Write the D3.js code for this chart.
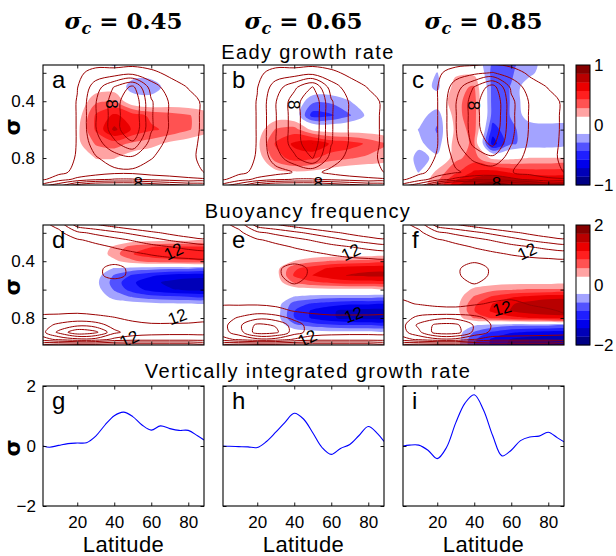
<!DOCTYPE html>
<html lang="en">
<head>
<meta charset="UTF-8">
<title>Eady growth rate and buoyancy frequency</title>
<script src="https://cdnjs.cloudflare.com/ajax/libs/d3/7.8.5/d3.min.js"></script>
<style>
  body { margin: 0; background: #fff; }
</style>
</head>
<body>
<div id="wrapper"></div>
<script>
// ---------- data ----------
const sigmaCases = ['0.45', '0.65', '0.85']
const rowTitles = ['Eady growth rate', 'Buoyancy frequency', 'Vertically integrated growth rate']
const panelLetters = [['a', 'b', 'c'], ['d', 'e', 'f'], ['g', 'h', 'i']]

// grid columns (latitude) and rows (sigma, top to bottom)
const gridLat = [0, 10, 20, 30, 40, 50, 60, 70, 80, 90]
const sigmaTop = [0.1, 0.2, 0.3, 0.4, 0.5, 0.6, 0.7, 0.8, 0.9, 0.95, 1.0]
const sigmaMid = [0.1, 0.15, 0.2, 0.25, 0.3, 0.35, 0.4, 0.45, 0.5, 0.55, 0.6, 0.65, 0.7, 0.75, 0.8, 0.85, 0.9, 0.95, 1.0]

// Eady growth rate change (shaded), rows = sigmaTop
const eadyDiffA = [
  [0, 0, 0, 0, -0.3, 0, 0, 0, 0, 0],
  [0, 0, 0, 0, 0, -0.05, -0.05, 0, 0, 0],
  [0, 0, 0, 0.05, 0.05, -0.25, -0.25, -0.05, 0, 0],
  [0, 0, 0, 0.25, 0.3, 0, -0.05, 0, 0, 0],
  [0, 0, 0.05, 0.45, 0.6, 0.5, 0.4, 0.35, 0.3, 0.2],
  [0, 0, 0.1, 0.45, 0.75, 0.55, 0.45, 0.4, 0.3, 0.2],
  [0, 0, 0.1, 0.3, 0.35, 0.25, 0.2, 0.1, 0.05, 0],
  [0, 0, 0, 0.15, 0.15, 0.05, 0, 0, 0, 0],
  [0, 0, 0, 0, 0, 0, 0, 0, 0, 0],
  [0, 0, 0, 0, 0, 0, 0, 0, 0, 0],
  [0, 0, 0, 0, 0, 0, 0, 0, 0, 0]
]
const eadyDiffB = [
  [0, 0, 0, 0, 0, 0, 0, 0, 0, 0],
  [0, 0, 0, 0, 0, 0, 0, 0, 0, 0],
  [0, 0, 0, 0, 0, 0, 0, 0, 0, 0],
  [0, 0, 0, 0, 0, -0.25, -0.25, -0.15, 0, 0],
  [0, 0, 0, 0.05, 0, -0.5, -0.45, -0.3, -0.1, 0],
  [0, 0, 0.05, 0.3, 0.35, 0.1, 0.05, 0.05, 0.05, 0],
  [0, 0, 0.1, 0.45, 0.6, 0.72, 0.55, 0.5, 0.4, 0.3],
  [0, 0, 0.05, 0.35, 0.5, 0.45, 0.35, 0.3, 0.25, 0.2],
  [0, 0, 0, 0.1, 0.12, 0.1, 0.05, 0, 0, 0],
  [0, 0, 0, 0, 0, 0, 0, 0, 0, 0],
  [0, 0, 0, 0, 0, 0, 0, 0, 0, 0]
]
const eadyDiffC = [
  [0, 0, 0, 0, 0, -0.3, -0.3, -0.25, 0, 0],
  [0, 0, -0.15, 0.1, 0.1, -0.35, -0.3, -0.2, 0, 0],
  [0, 0, -0.2, 0.25, 0.3, -0.35, -0.28, 0, 0, 0],
  [0, 0, 0, 0.25, 0.35, -0.35, -0.28, 0, 0, 0],
  [0, -0.05, -0.25, 0.25, 0.35, -0.35, -0.28, -0.05, 0, 0],
  [0, -0.15, -0.3, 0.2, 0.35, -0.5, -0.3, -0.25, -0.25, -0.25],
  [0, -0.1, -0.25, 0.25, 0.3, -0.65, -0.3, -0.25, -0.25, -0.2],
  [0, -0.2, -0.1, 0.25, 0.35, 0.1, 0.1, 0.15, 0.15, 0.15],
  [0, -0.15, 0.2, 0.4, 0.6, 0.65, 0.55, 0.5, 0.5, 0.5],
  [0, 0, 0.25, 0.55, 0.75, 0.8, 0.75, 0.7, 0.65, 0.65],
  [0, 0, 0.3, 0.7, 0.9, 0.95, 0.9, 0.85, 0.8, 0.8]
]

// Eady growth rate (contour lines), rows = sigmaTop
const eadyA = [
  [0, 0, 0.3, 0.5, 0.5, 0.5, 0.4, 0.2, 0, 0],
  [0, 0.3, 1.5, 2.8, 2.8, 3.2, 2.5, 1.5, 0.8, 0.5],
  [0, 0.5, 1.9, 5, 8.1, 10.5, 5, 3, 1.9, 1],
  [0, 0.5, 2.1, 5.9, 9, 12, 6.2, 3.8, 2.6, 1.6],
  [0, 0.5, 2.1, 5.9, 9, 12, 6.2, 3.8, 2.6, 1.6],
  [0, 0.5, 2.1, 5.9, 9, 12, 6.2, 3.8, 2.6, 1.6],
  [0, 0.5, 2.1, 5, 7.5, 9.5, 5, 3.4, 2.4, 1.6],
  [0, 0.8, 2.2, 3.8, 5, 5.5, 4.1, 3, 2.3, 1.6],
  [0.5, 1.5, 2.5, 3, 3.5, 3.5, 3, 2.8, 2.5, 1.9],
  [1.5, 3, 4.5, 5.5, 6.1, 6.1, 5.5, 5, 4.5, 4.2],
  [5, 8.1, 12, 14, 14, 14, 13, 12, 11, 10.5]
]
const eadyB = [
  [0, 0, 0.3, 0.5, 0.5, 0.5, 0.4, 0.2, 0, 0],
  [0, 0.3, 1.5, 2.8, 2.8, 3.2, 2.5, 1.5, 0.8, 0.5],
  [0, 0.5, 1.9, 5, 7.5, 10.1, 5, 3, 1.9, 1],
  [0, 0.5, 2.1, 5.9, 9, 12, 6.2, 3.8, 2.6, 1.6],
  [0, 0.5, 2.1, 5.9, 9, 12, 6.2, 3.8, 2.6, 1.6],
  [0, 0.5, 2.1, 5.9, 9, 12, 6.2, 3.8, 2.6, 1.6],
  [0, 0.5, 2.1, 5.9, 9, 11.5, 6.1, 3.8, 2.6, 1.6],
  [0, 0.8, 2.2, 5, 7.5, 10.1, 5, 3.4, 2.4, 1.6],
  [0.5, 1.5, 2.5, 3.2, 4.1, 4.5, 3.5, 2.8, 2.5, 1.9],
  [1.5, 3, 4.5, 5.5, 6.1, 6.1, 5.5, 5, 4.5, 4.2],
  [5, 8.1, 12, 14, 14, 14, 13, 12, 11, 10.5]
]
const eadyC = [
  [0, 0, 0.3, 0.5, 0.6, 0.6, 0.5, 0.2, 0, 0],
  [0, 0.3, 1.6, 3, 3.5, 4.1, 3, 1.6, 0.8, 0.5],
  [0, 0.5, 1.9, 5, 8.1, 11, 5.5, 3, 1.9, 1],
  [0, 0.5, 1.9, 5.9, 9, 12.5, 6.5, 3.8, 2.6, 1.6],
  [0, 0.5, 1.9, 5.9, 9, 12.5, 6.5, 3.8, 2.6, 1.6],
  [0, 0.5, 1.9, 5.9, 9, 12, 6.5, 3.8, 2.6, 1.6],
  [0, 0.5, 1.9, 5.5, 8.5, 10.5, 6.1, 3.6, 2.5, 1.6],
  [0, 0.8, 2.2, 4.5, 6.5, 7.5, 5, 3.3, 2.4, 1.6],
  [0.5, 1.5, 2.8, 3.8, 4.5, 4.8, 4.1, 3.2, 2.5, 1.9],
  [1.5, 3, 5, 6.5, 7.5, 7.5, 6.5, 5.5, 4.5, 4.2],
  [5, 8.1, 13, 16.5, 17, 17, 15, 13, 11, 10.5]
]

// buoyancy frequency change (shaded), rows = sigmaMid
const nDiffD = [
  [0, 0, 0, 0, 0, 0, 0, 0, 0, 0],
  [0, 0, 0, 0, 0, 0, 0, 0, 0, 0],
  [0, 0, 0, 0, 0, 0, 0, 0, 0, 0],
  [0, 0, 0, 0, 0, 0.1, 0.15, 0.2, 0.2, 0.2],
  [0, 0, 0, 0, 0.35, 0.7, 0.85, 0.9, 0.9, 0.9],
  [0, 0, 0, 0, 0.45, 0.85, 1.0, 1.05, 1.1, 1.1],
  [0, 0, 0, 0, 0.2, 0.5, 0.7, 0.75, 0.8, 0.8],
  [0, 0, 0, -0.1, -0.3, -0.4, -0.45, -0.5, -0.5, -0.5],
  [0, 0, 0, -0.15, -0.6, -0.9, -1.1, -1.25, -1.3, -1.3],
  [0, 0, 0, -0.2, -0.7, -1.1, -1.35, -1.5, -1.6, -1.6],
  [0, 0, 0, -0.15, -0.6, -1.0, -1.25, -1.4, -1.5, -1.5],
  [0, 0, 0, -0.05, -0.4, -0.6, -0.75, -0.8, -0.85, -0.85],
  [0, 0, 0, 0, -0.1, -0.15, -0.2, -0.25, -0.25, -0.25],
  [0, 0, 0, 0, 0, 0, 0, 0, 0, 0],
  [0, 0, 0, 0, 0, 0, 0, 0, 0, 0],
  [0, 0, 0, 0, 0, 0, 0, 0, 0, 0],
  [0, 0, 0, 0, 0, 0, 0, 0, 0, 0],
  [0, 0, 0, 0, 0, 0, 0, 0, 0, 0],
  [0, 0, 0, 0, 0, 0, 0, 0, 0, 0]
]
const nDiffE = [
  [0, 0, 0, 0, 0, 0, 0, 0, 0, 0],
  [0, 0, 0, 0, 0, 0, 0, 0, 0, 0],
  [0, 0, 0, 0, 0, 0, 0, 0, 0, 0],
  [0, 0, 0, 0, 0, 0, 0, 0, 0, 0],
  [0, 0, 0, 0, 0, 0, 0, 0, 0, 0],
  [0, 0, 0, 0, 0, 0.05, 0.1, 0.1, 0.1, 0.1],
  [0, 0, 0, 0.05, 0.3, 0.5, 0.6, 0.65, 0.7, 0.7],
  [0, 0, 0, 0.15, 0.8, 1.0, 1.2, 1.3, 1.35, 1.35],
  [0, 0, 0, 0.15, 0.9, 1.15, 1.35, 1.45, 1.5, 1.5],
  [0, 0, 0, 0.1, 0.6, 0.8, 0.9, 1.0, 1.0, 1.0],
  [0, 0, 0, 0, 0.1, 0.15, 0.2, 0.2, 0.2, 0.2],
  [0, 0, 0, -0.05, -0.3, -0.4, -0.45, -0.45, -0.45, -0.45],
  [0, 0, 0, -0.1, -0.7, -0.9, -1.0, -1.1, -1.1, -1.1],
  [0, 0, 0, -0.1, -0.85, -1.2, -1.4, -1.5, -1.55, -1.55],
  [0, 0, 0, -0.1, -0.85, -1.2, -1.4, -1.5, -1.55, -1.55],
  [0, 0, 0, -0.05, -0.5, -0.7, -0.8, -0.85, -0.85, -0.85],
  [0, 0, 0, 0, -0.1, -0.15, -0.2, -0.2, -0.2, -0.2],
  [0, 0, 0, 0, 0, 0, 0, 0, 0, 0],
  [0, 0, 0, 0, 0, 0, 0, 0, 0, 0]
]
const nDiffF = [
  [0, 0, 0, 0, 0, 0, 0, 0, 0, 0],
  [0, 0, 0, 0, 0, 0, 0, 0, 0, 0],
  [0, 0, 0, 0, 0, 0, 0, 0, 0, 0],
  [0, 0, 0, 0, 0, 0, 0, 0, 0, 0],
  [0, 0, 0, 0, 0, 0, 0, 0, 0, 0],
  [0, 0, 0, 0, 0, 0, 0, 0, 0, 0],
  [0, 0, 0, 0, 0, 0, 0, 0, 0, 0],
  [0, 0, 0, 0, 0, 0, 0, 0, 0, 0],
  [0, 0, 0, 0, 0, 0, 0, 0, 0, 0],
  [0, 0, 0, 0, 0.1, 0.15, 0.2, 0.2, 0.2, 0.2],
  [0, 0, 0, 0.05, 0.35, 0.5, 0.55, 0.6, 0.6, 0.6],
  [0, 0, 0, 0.1, 0.6, 0.9, 1.1, 1.2, 1.3, 1.3],
  [0, 0, 0, 0.15, 0.8, 1.15, 1.4, 1.55, 1.65, 1.65],
  [0, 0, 0, 0.15, 0.85, 1.2, 1.45, 1.6, 1.7, 1.7],
  [0, 0, 0, 0.1, 0.6, 0.9, 1.05, 1.15, 1.2, 1.2],
  [0, 0, 0, -0.05, -0.25, -0.4, -0.5, -0.5, -0.5, -0.5],
  [0, 0, 0, -0.1, -0.6, -0.9, -1.1, -1.2, -1.25, -1.25],
  [0, 0, 0, -0.1, -0.8, -1.2, -1.45, -1.55, -1.6, -1.6],
  [0, 0, 0, -0.1, -0.8, -1.2, -1.5, -1.6, -1.65, -1.65]
]

// buoyancy frequency (contour lines), rows = sigmaMid
const buoyD = [
  [11.5, 14.2, 19, 20, 21, 22, 23, 24, 25, 26],
  [11.2, 12.5, 16.5, 17.5, 18.5, 19.5, 20.5, 21.5, 22.5, 23],
  [11, 11.5, 13.5, 14.5, 15.5, 16.5, 17.5, 18.5, 19.5, 20],
  [11, 11.2, 11.8, 12.5, 13.3, 14.2, 15.2, 16.2, 17, 17.5],
  [11, 11, 11.2, 11.5, 12.1, 12.6, 13.3, 13.9, 14.6, 15],
  [11, 11, 11, 11, 11.3, 11.7, 12.1, 12.5, 12.8, 13],
  [11, 11, 11, 10.8, 10.6, 11, 11.3, 11.4, 11.5, 11.5],
  [11, 11, 11, 10.5, 9.3, 10.5, 11, 11, 11, 11],
  [11, 11, 11, 10.5, 9.3, 10.5, 11, 11, 11, 11],
  [11, 11, 11, 11, 10.8, 11, 11, 11, 11, 11],
  [11, 11, 11, 11, 11, 11, 11, 11, 11, 11],
  [11, 11, 11, 11, 11, 11, 11, 11, 11, 11],
  [11.2, 11.2, 11.2, 11.1, 11, 11, 11, 11, 11, 11],
  [11.6, 11.6, 11.6, 11.4, 11.2, 11.1, 11, 11, 11, 11],
  [12.3, 12.5, 12.8, 12.5, 12.1, 11.6, 11.4, 11.4, 11.5, 11.6],
  [13, 14.5, 15.5, 15, 13.2, 12.5, 12.2, 12.2, 12.2, 12.3],
  [13, 16.5, 19.5, 18.5, 14.5, 13, 12.6, 12.5, 12.5, 12.5],
  [11, 12.5, 13.5, 13.3, 11.5, 11, 11, 11, 11, 11],
  [3, 3, 3, 3, 3, 3, 3, 3, 3, 3]
]
const buoyE = [
  [11.5, 14.2, 19, 20, 21, 22, 23, 24, 25, 26],
  [11.2, 12.5, 16.5, 17.5, 18.5, 19.5, 20.5, 21.5, 22.5, 23],
  [11, 11.5, 13.5, 14.5, 15.5, 16.5, 17.5, 18.5, 19.5, 20],
  [11, 11.2, 11.8, 12.5, 13.3, 14.2, 15.2, 16.2, 17, 17.5],
  [11, 11, 11.2, 11.5, 12.1, 12.6, 13.3, 13.9, 14.6, 15],
  [11, 11, 11, 11, 11.3, 11.7, 12.1, 12.5, 12.8, 13],
  [11, 11, 11, 10.8, 10.5, 11, 11.3, 11.4, 11.5, 11.5],
  [11, 11, 11, 10.4, 9.2, 10.4, 11, 11, 11, 11],
  [11, 11, 11, 10.4, 9.2, 10.4, 11, 11, 11, 11],
  [11, 11, 11, 10.6, 9.8, 10.6, 11, 11, 11, 11],
  [11, 11, 11, 11, 10.8, 11, 11, 11, 11, 11],
  [11.3, 11.3, 11.3, 11.2, 11.1, 11, 11, 11, 11, 11],
  [11.8, 11.8, 11.8, 11.6, 11.4, 11.2, 11.1, 11, 11, 11],
  [12.5, 12.8, 13, 12.6, 11.9, 11.7, 11.6, 11.6, 11.6, 11.6],
  [13, 14.2, 15.5, 15, 13.5, 12.5, 12.3, 12.3, 12.3, 12.3],
  [13, 15.5, 18.5, 17.8, 15, 13, 12.6, 12.5, 12.5, 12.5],
  [13, 15, 19, 18.5, 15, 13, 12.6, 12.5, 12.5, 12.5],
  [11, 12.5, 13.5, 13.3, 11.8, 11, 11, 11, 11, 11],
  [3, 3, 3, 3, 3, 3, 3, 3, 3, 3]
]
const buoyF = [
  [11.5, 14.2, 19, 20, 21, 22, 23, 24, 25, 26],
  [11.2, 12.5, 16.5, 17.5, 18.5, 19.5, 20.5, 21.5, 22.5, 23],
  [11, 11.5, 13.5, 14.5, 15.5, 16.5, 17.5, 18.5, 19.5, 20],
  [11, 11.2, 11.8, 12.5, 13.3, 14.2, 15.2, 16.2, 17, 17.5],
  [11, 11, 11.2, 11.5, 12.1, 12.6, 13.3, 13.9, 14.6, 15],
  [11, 11, 11, 11, 11.3, 11.7, 12.1, 12.5, 12.8, 13],
  [11, 11, 11, 10.6, 10.2, 10.8, 11.3, 11.4, 11.5, 11.5],
  [11, 11, 11, 10.3, 9.2, 10.3, 11, 11, 11, 11],
  [11, 11, 11, 10.3, 9.2, 10.3, 11, 11, 11, 11],
  [11, 11, 11, 10.6, 9.8, 10.6, 11, 11, 11, 11],
  [11.2, 11.2, 11.1, 11, 10.8, 11, 11.2, 11.2, 11.2, 11.2],
  [11.8, 11.6, 11.4, 11.2, 11.2, 11.5, 11.7, 11.6, 11.5, 11.4],
  [12.3, 11.9, 11.7, 11.6, 11.8, 12.2, 12.4, 11.9, 11.8, 11.7],
  [13, 13, 12.5, 12.5, 13, 13, 13, 12.5, 12.1, 11.9],
  [13, 14.5, 15.5, 15.5, 14.5, 13.5, 13.3, 13, 12.5, 12.1],
  [13, 16.5, 18.5, 18.5, 15.8, 13.8, 13.4, 13.2, 13, 12.6],
  [13, 15.5, 19, 19, 15.5, 13.5, 13.2, 13, 12.8, 12.5],
  [11, 12.5, 13.5, 13.5, 12.1, 11, 11, 11, 11, 11],
  [3, 3, 3, 3, 3, 3, 3, 3, 3, 3]
]

// contour levels and colour steps
const eadyLevels = [2, 4, 6, 8, 10]
const buoyLevels = [4, 6, 8, 10, 12, 14, 16, 18]
const redShades = ['#ffa3a3', '#ff5252', '#ff1f1f', '#eb0000', '#b80000', '#850000']
const blueShades = ['#a3a3ff', '#5252ff', '#1f1fff', '#0000eb', '#0000b8', '#000085']

// contour labels (inline text on the lines)
const contourLabels = [
  {panel: 'a', lat: 39, sig: 0.42, text: '8', angle: 90},
  {panel: 'a', lat: 53, sig: 0.978, text: '8', angle: 0},
  {panel: 'b', lat: 40, sig: 0.425, text: '8', angle: 90},
  {panel: 'b', lat: 53, sig: 0.978, text: '8', angle: 0},
  {panel: 'c', lat: 40, sig: 0.43, text: '8', angle: 90},
  {panel: 'c', lat: 52, sig: 0.975, text: '8', angle: 0},
  {panel: 'd', lat: 72, sig: 0.33, text: '12', angle: -25},
  {panel: 'd', lat: 74, sig: 0.79, text: '12', angle: -20},
  {panel: 'd', lat: 48, sig: 0.945, text: '12', angle: -25},
  {panel: 'e', lat: 70.5, sig: 0.335, text: '12', angle: -25},
  {panel: 'e', lat: 72, sig: 0.775, text: '12', angle: -20},
  {panel: 'e', lat: 47, sig: 0.94, text: '12', angle: -25},
  {panel: 'f', lat: 68.5, sig: 0.33, text: '12', angle: -25},
  {panel: 'f', lat: 55, sig: 0.73, text: '12', angle: -15}
]

// vertically integrated growth rate
const lineLat = [1.5, 5, 10, 15, 20, 25, 30, 35, 40, 45, 50, 55, 60, 65, 70, 75, 80, 85, 88.5]
const growthG = [0.0, -0.04, 0.02, 0.08, 0.1, 0.11, 0.33, 0.7, 1.01, 1.13, 0.98, 0.7, 0.53, 0.67, 0.58, 0.52, 0.52, 0.34, 0.2]
const growthH = [0.0, -0.01, -0.02, -0.03, -0.05, 0.15, 0.46, 0.79, 1.09, 0.9, 0.44, -0.05, -0.28, -0.08, 0.05, 0.35, 0.65, 0.41, 0.15]
const growthI = [0.0, 0.03, 0.03, -0.14, -0.42, -0.05, 0.77, 1.43, 1.71, 1.2, 0.34, -0.33, -0.14, 0.18, 0.3, 0.33, 0.46, 0.27, 0.14]

// ---------- layout ----------
const width = 616, height = 556
const W = 161, H = 120
const colX = [43, 223, 403]
const rowY = [65, 225, 386]
const sansFont = '"Liberation Sans", Arial, Helvetica, sans-serif'
const intFormat = d3.format('d')

const xLat = d3.scaleLinear().domain([1.5, 88.5]).range([0, W])
const ySig = d3.scaleLinear().domain([0.145, 0.99]).range([0, H])
const yRate = d3.scaleLinear().domain([-2, 2]).range([H, 0])

const svg = d3.select('#wrapper').append('svg')
    .attr('width', width)
    .attr('height', height)
    .attr('viewBox', `0 0 ${width} ${height}`)
    .style('font-family', sansFont)
    .style('background', '#fff')

const defs = svg.append('defs')
defs.append('clipPath').attr('id', 'panel-clip')
  .append('rect').attr('width', W).attr('height', H)

// turn a grid into smoothed contour paths
function contourPaths(grid, rows, thresholds, sign) {
    const nx = gridLat.length, ny = rows.length
    const values = grid.flat().map(v => sign * v)
    const gx = d3.scaleLinear().domain([0.5, nx - 0.5]).range([gridLat[0], gridLat[nx - 1]])
    const gy = d3.scaleLinear().domain(rows.map((_, j) => j + 0.5)).range(rows)
    const ring = d3.line()
        .x(p => xLat(gx(p[0])))
        .y(p => ySig(gy(p[1])))
        .curve(d3.curveCatmullRomClosed)
    return d3.contours().size([nx, ny]).thresholds(thresholds)(values)
        .map(c => c.coordinates.map(poly => poly.map(r => ring(r.slice(0, -1))).join('')).join(''))
}

function drawFrameAndAxes(g, row, col, yScale) {
    const isLine = row === 2
    const xb = d3.axisBottom(xLat).tickValues([20, 40, 60, 80]).tickSizeInner(-3.5).tickSizeOuter(0).tickPadding(10)
    if (!isLine) xb.tickFormat('')
    const xt = d3.axisTop(xLat).tickValues([20, 40, 60, 80]).tickSizeInner(-3.5).tickSizeOuter(0).tickFormat('')

    let yl, yr
    if (isLine) {
        yl = d3.axisLeft(yScale).tickValues([-2, 0, 2]).tickSizeInner(-3.5).tickSizeOuter(0).tickPadding(7)
            .tickFormat(intFormat)
        yr = d3.axisRight(yScale).tickValues([-2, 0, 2]).tickSizeInner(-3.5).tickSizeOuter(0).tickFormat('')
    } else {
        yl = d3.axisLeft(yScale).tickValues([0.2, 0.4, 0.6, 0.8]).tickSizeInner(-3.5).tickSizeOuter(0).tickPadding(8)
            .tickFormat(d => (Math.abs(d - 0.4) < 1e-6 || Math.abs(d - 0.8) < 1e-6) ? d3.format('.1f')(d) : '')
        yr = d3.axisRight(yScale).tickValues([0.2, 0.4, 0.6, 0.8]).tickSizeInner(-3.5).tickSizeOuter(0).tickFormat('')
    }
    if (col !== 0) yl.tickFormat('')

    const axes = [
        g.append('g').attr('transform', `translate(0,${H})`).call(xb),
        g.append('g').call(xt),
        g.append('g').call(yl),
        g.append('g').attr('transform', `translate(${W},0)`).call(yr)
    ]
    axes.forEach(a => {
        a.attr('font-size', 17).attr('font-family', sansFont)
        a.select('.domain').remove()
        a.selectAll('line').attr('stroke', '#000').attr('stroke-width', 0.9)
        a.selectAll('text').attr('fill', '#000')
    })

    g.append('rect')
        .attr('width', W).attr('height', H)
        .attr('fill', 'none').attr('stroke', '#000').attr('stroke-width', 1.1)
}

const contourPanels = [
    {row: 0, col: 0, letter: 'a', fill: eadyDiffA, lines: eadyA, rows: sigmaTop, step: 1 / 7, levels: eadyLevels},
    {row: 0, col: 1, letter: 'b', fill: eadyDiffB, lines: eadyB, rows: sigmaTop, step: 1 / 7, levels: eadyLevels},
    {row: 0, col: 2, letter: 'c', fill: eadyDiffC, lines: eadyC, rows: sigmaTop, step: 1 / 7, levels: eadyLevels},
    {row: 1, col: 0, letter: 'd', fill: nDiffD, lines: buoyD, rows: sigmaMid, step: 2 / 7, levels: buoyLevels},
    {row: 1, col: 1, letter: 'e', fill: nDiffE, lines: buoyE, rows: sigmaMid, step: 2 / 7, levels: buoyLevels},
    {row: 1, col: 2, letter: 'f', fill: nDiffF, lines: buoyF, rows: sigmaMid, step: 2 / 7, levels: buoyLevels}
]

contourPanels.forEach(p => {
    const g = svg.append('g').attr('transform', `translate(${colX[p.col]},${rowY[p.row]})`)
    const body = g.append('g').attr('clip-path', 'url(#panel-clip)')
    body.append('rect').attr('width', W).attr('height', H).attr('fill', '#fff')

    const bandThresholds = redShades.map((_, k) => (k + 1) * p.step)
    contourPaths(p.fill, p.rows, bandThresholds, 1).forEach((d, k) => {
        body.append('path').attr('d', d).attr('fill', redShades[k])
    })
    contourPaths(p.fill, p.rows, bandThresholds, -1).forEach((d, k) => {
        body.append('path').attr('d', d).attr('fill', blueShades[k])
    })
    contourPaths(p.lines, p.rows, p.levels, 1).forEach(d => {
        body.append('path').attr('d', d)
            .attr('fill', 'none').attr('stroke', '#9a0000').attr('stroke-width', 1)
    })

    contourLabels.filter(l => l.panel === p.letter).forEach(l => {
        body.append('text')
            .attr('transform', `translate(${xLat(l.lat)},${ySig(l.sig)}) rotate(${l.angle})`)
            .attr('text-anchor', 'middle')
            .attr('dy', '0.36em')
            .attr('font-size', 17)
            .attr('fill', '#000')
            .text(l.text)
    })

    drawFrameAndAxes(g, p.row, p.col, ySig)

    g.append('text').attr('x', 9).attr('y', 23)
        .attr('font-size', 24).attr('fill', '#000')
        .text(p.letter)
})

// line panels
const lineSeries = [growthG, growthH, growthI]
lineSeries.forEach((series, col) => {
    const g = svg.append('g').attr('transform', `translate(${colX[col]},${rowY[2]})`)
    const body = g.append('g').attr('clip-path', 'url(#panel-clip)')
    const line = d3.line()
        .x((d, i) => xLat(lineLat[i]))
        .y(d => yRate(d))
        .curve(d3.curveCatmullRom)
    body.append('path')
        .attr('d', line(series))
        .attr('fill', 'none').attr('stroke', '#0000ff').attr('stroke-width', 1.1)

    drawFrameAndAxes(g, 2, col, yRate)

    g.append('text').attr('x', 9).attr('y', 23)
        .attr('font-size', 24).attr('fill', '#000')
        .text(panelLetters[2][col])

    svg.append('text')
        .attr('x', colX[col] + W / 2).attr('y', 552)
        .attr('text-anchor', 'middle')
        .attr('font-size', 22).attr('letter-spacing', 0.4).attr('fill', '#000')
        .text('Latitude')
})

// colour bars
const colorbarMax = [1, 2]
colorbarMax.forEach((m, row) => {
    const cb = svg.append('g').attr('transform', `translate(576,${rowY[row]})`)
    const cScale = d3.scaleLinear().domain([-m, m]).range([H, 0])
    const edges = d3.range(-7, 8).map(k => k * m / 7)
    const bands = d3.pairs(edges)
    cb.selectAll('rect.band')
        .data(bands)
        .join('rect')
            .attr('class', 'band')
            .attr('x', 0)
            .attr('width', 14)
            .attr('y', d => cScale(d[1]))
            .attr('height', d => cScale(d[0]) - cScale(d[1]) + 0.3)
            .attr('fill', d => {
                const mid = (d[0] + d[1]) / 2
                const k = Math.floor(Math.abs(mid) / (m / 7)) - 1
                if (k < 0) return '#fff'
                return mid > 0 ? redShades[k] : blueShades[k]
            })
    cb.append('rect').attr('width', 14).attr('height', H)
        .attr('fill', 'none').attr('stroke', '#000').attr('stroke-width', 1)
    const ax = cb.append('g').attr('transform', 'translate(14,0)')
        .call(d3.axisRight(cScale).tickValues([-m, 0, m]).tickSize(0).tickPadding(4).tickFormat(intFormat))
    ax.attr('font-size', 17).attr('font-family', sansFont)
    ax.select('.domain').remove()
    ax.selectAll('text').attr('fill', '#000')
})

// row titles
const titleBaselines = [59, 218, 378]
rowTitles.forEach((t, i) => {
    svg.append('text')
        .attr('x', 308).attr('y', titleBaselines[i])
        .attr('text-anchor', 'middle')
        .attr('font-size', 20)
        .attr('letter-spacing', 1.4)
        .attr('fill', '#000')
        .text(t)
})

// sigma labels on the left
rowY.forEach(y0 => {
    svg.append('text')
        .attr('transform', `translate(20,${y0 + H / 2 + 2}) rotate(-90)`)
        .attr('text-anchor', 'middle')
        .attr('font-family', '"DejaVu Sans", sans-serif')
        .attr('font-weight', 'bold')
        .attr('font-size', 22)
        .attr('fill', '#000')
        .text('σ')
})

// column headers
sigmaCases.forEach((s, col) => {
    const t = svg.append('text')
        .attr('x', colX[col] + W / 2).attr('y', 29)
        .attr('text-anchor', 'middle')
        .attr('font-family', '"DejaVu Serif", serif')
        .attr('font-weight', 'bold')
        .attr('font-size', 23)
        .attr('fill', '#000')
    t.append('tspan').attr('font-style', 'italic').text('σ')
    t.append('tspan').attr('font-style', 'italic').attr('font-size', 16).attr('dy', 5).text('c')
    t.append('tspan').attr('dy', -5).text(' = ' + s)
})
</script>
</body>
</html>
